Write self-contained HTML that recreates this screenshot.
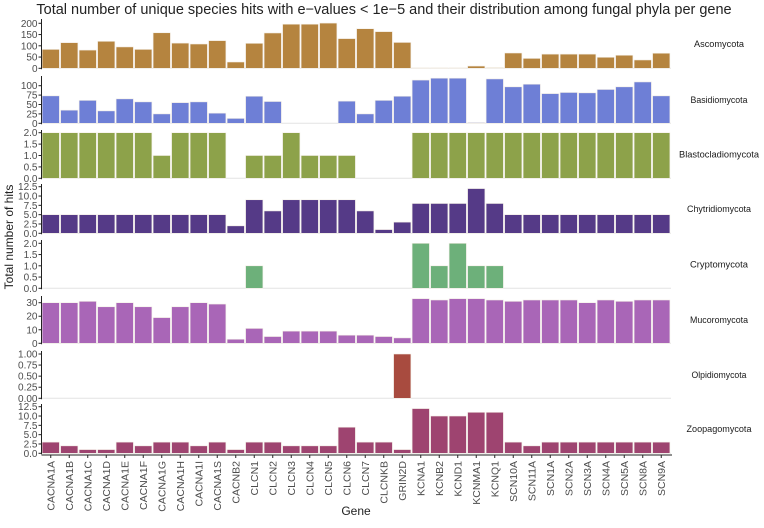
<!DOCTYPE html>
<html><head><meta charset="utf-8"><style>
body{margin:0;background:#fff;}
svg text{font-family:"Liberation Sans",sans-serif;}
</style></head><body>
<svg id="chart" width="764" height="523">
<text x="384" y="14" text-anchor="middle" font-size="14.5" fill="#222">Total number of unique species hits with e−values &lt; 1e−5 and their distribution among fungal phyla per gene</text>
<text transform="translate(13,237) rotate(-90)" text-anchor="middle" font-size="12" fill="#222">Total number of hits</text>
<text x="356" y="515" text-anchor="middle" font-size="12" fill="#222">Gene</text>
</svg>
<script>
const genes=["CACNA1A","CACNA1B","CACNA1C","CACNA1D","CACNA1E","CACNA1F","CACNA1G","CACNA1H","CACNA1I","CACNA1S","CACNB2","CLCN1","CLCN2","CLCN3","CLCN4","CLCN5","CLCN6","CLCN7","CLCNKB","GRIN2D","KCNA1","KCNB2","KCND1","KCNMA1","KCNQ1","SCN10A","SCN11A","SCN1A","SCN2A","SCN3A","SCN4A","SCN5A","SCN8A","SCN9A"];
const phyla=["Ascomycota","Basidiomycota","Blastocladiomycota","Chytridiomycota","Cryptomycota","Mucoromycota","Olpidiomycota","Zoopagomycota"];
const ascomycota=[84,114,81,120,95,84,158,112,108,123,28,111,157,196,196,201,132,176,163,115,2,2,2,10,3,68,44,63,63,63,49,58,37,67];
const basidiomycota=[73,35,61,33,65,57,25,55,57,27,13,72,58,0,0,0,59,25,61,72,115,120,120,2,118,97,104,79,82,81,90,97,110,73];
const blastocladiomycota=[2,2,2,2,2,2,1,2,2,2,0,1,1,2,1,1,1,0,0,0,2,2,2,2,2,2,2,2,2,2,2,2,2,2];
const chytridiomycota=[5,5,5,5,5,5,5,5,5,5,2,9,6,9,9,9,9,6,1,3,8,8,8,12,8,5,5,5,5,5,5,5,5,5];
const cryptomycota=[0,0,0,0,0,0,0,0,0,0,0,1,0,0,0,0,0,0,0,0,2,1,2,1,1,0,0,0,0,0,0,0,0,0];
const mucoromycota=[30,30,31,27,30,27,19,27,30,29,3,11,5,9,9,9,6,6,5,4,33,32,33,33,32,31,32,32,32,30,32,31,32,32];
const olpidiomycota=[0,0,0,0,0,0,0,0,0,0,0,0,0,0,0,0,0,0,0,1,0,0,0,0,0,0,0,0,0,0,0,0,0,0];
const zoopagomycota=[3,2,1,1,3,2,3,3,2,3,1,3,3,2,2,2,7,3,3,1,12,10,10,11,11,3,2,3,3,3,3,3,3,3];
const ticksAsco=[0,50,100,150,200];
const ticksBasid=[0,25,50,75,100];
const ticksTwo=["0.0","0.5","1.0","1.5","2.0"];
const ticksChy=["0.0","2.5","5.0","7.5","10.0","12.5"];
const ticksMuc=[0,10,20,30];
const ticksOlp=["0.00","0.25","0.50","0.75","1.00"];

const series=[ascomycota,basidiomycota,blastocladiomycota,chytridiomycota,cryptomycota,mucoromycota,olpidiomycota,zoopagomycota];
const ticks=[ticksAsco,ticksBasid,ticksTwo,ticksChy,ticksTwo,ticksMuc,ticksOlp,ticksChy];
const colors=["#b5843f","#6e7fd6","#8da24a","#553a87","#6db07a","#a966b7","#a84b3f","#9e4470"];
const labelWidths=[50,57,80,64,58,58,55,65];
const panels=[[68.3,200,23.3,19],[123.3,100,85.7,76],[178.3,2,132.7,130],[233.3,12.5,186.7,184],[288.3,2,243.3,240],[343.3,30,302.7,296],[398.3,1,354,351],[453.3,12.5,406.7,404]];
const svg=document.getElementById('chart');
const NS="http://www.w3.org/2000/svg";
const x0=41.5,step=18.5;
function xs(i){return x0+i*step;}
function mk(t,a){const e=document.createElementNS(NS,t);for(const k in a)e.setAttribute(k,a[k]);svg.appendChild(e);return e;}
panels.forEach((p,pi)=>{
  const [z,rv,rp,top]=p;
  const ys=v=>z-(z-rp)*v/rv;
  const g=mk('line',{x1:x0,x2:671,y1:z,y2:z,stroke:'#e4e4e4','stroke-width':1});
  
  
  series[pi].forEach((v,i)=>{
    if(v<=0)return;
    const y=ys(v);
    const r=mk('rect',{x:xs(i)+0.6,y:y,width:step-1.2,height:Math.max(z-y,0.6),fill:colors[pi],stroke:'#f3eee6','stroke-width':0.6});
    
    
  });
  const ax=mk('line',{x1:x0,x2:x0,y1:top,y2:z+1,stroke:'#222','stroke-width':1});
  
  
  ticks[pi].forEach(t=>{
    const y=ys(parseFloat(t));
    const tl=mk('line',{x1:x0-3,x2:x0,y1:y,y2:y,stroke:'#222','stroke-width':1});
    
    
    const tx=mk('text',{x:x0-4,y:y+3.5,'text-anchor':'end','font-size':10,fill:'#4d4d4d'});
    tx.textContent=t;
    
    
  });
  const s=mk('text',{x:719,y:(top+z)/2+3.5,'text-anchor':'middle','font-size':9,fill:'#1a1a1a',textLength:labelWidths[pi],lengthAdjust:'spacingAndGlyphs'});
  s.textContent=phyla[pi];
  
  
});
const xa=mk('line',{x1:x0,x2:672,y1:455,y2:455,stroke:'#222','stroke-width':1});


genes.forEach((gname,i)=>{
  const cx=xs(i)+step/2;
  const tl=mk('line',{x1:cx,x2:cx,y1:455,y2:458,stroke:'#222','stroke-width':1});
  
  
  const t=mk('text',{transform:`translate(${cx+3.5},461) rotate(-90)`,'text-anchor':'end','font-size':10.5,fill:'#4d4d4d'});
  t.textContent=gname;
  
  
});
</script>
</body></html>
